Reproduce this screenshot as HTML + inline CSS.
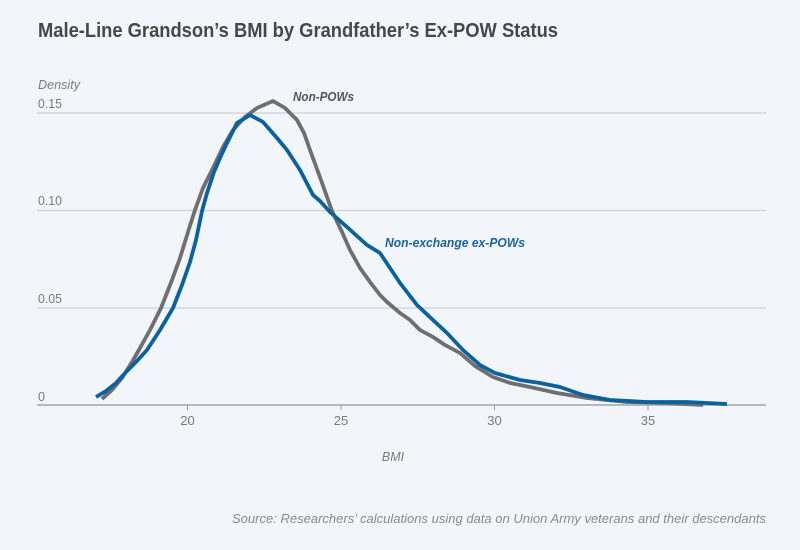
<!DOCTYPE html>
<html><head><meta charset="utf-8"><style>
html,body{margin:0;padding:0;background:#f2f6fa;}
svg{display:block;}
text{font-family:"Liberation Sans",sans-serif;}
</style></head><body>
<svg width="800" height="550" viewBox="0 0 800 550" xmlns="http://www.w3.org/2000/svg">
<rect width="800" height="550" fill="#f2f6fa"/>
<text x="38" y="37" font-size="20" font-weight="bold" fill="#474747" textLength="520" lengthAdjust="spacingAndGlyphs">Male-Line Grandson’s BMI by Grandfather’s Ex-POW Status</text>
<text x="38" y="89" font-size="12.5" font-style="italic" fill="#7a7a7a" textLength="42" lengthAdjust="spacingAndGlyphs">Density</text>
<g font-size="12.5" fill="#7a7a7a">
<text x="38" y="108" textLength="24" lengthAdjust="spacingAndGlyphs">0.15</text>
<text x="38" y="205" textLength="24" lengthAdjust="spacingAndGlyphs">0.10</text>
<text x="38" y="303" textLength="24" lengthAdjust="spacingAndGlyphs">0.05</text>
<text x="38" y="401">0</text>
</g>
<g stroke="#cdd1d5" stroke-width="1.3">
<line x1="37" y1="113" x2="766" y2="113"/>
<line x1="37" y1="210.5" x2="766" y2="210.5"/>
<line x1="37" y1="308" x2="766" y2="308"/>
</g>
<line x1="37" y1="405" x2="766" y2="405" stroke="#b5b9bd" stroke-width="2"/>
<g stroke="#9a9ea2" stroke-width="1">
<line x1="187.5" y1="405" x2="187.5" y2="410"/>
<line x1="341" y1="405" x2="341" y2="410"/>
<line x1="494.5" y1="405" x2="494.5" y2="410"/>
<line x1="648" y1="405" x2="648" y2="410"/>
</g>
<g font-size="13" fill="#7a7a7a" text-anchor="middle">
<text x="187.5" y="425">20</text>
<text x="341" y="425">25</text>
<text x="494.5" y="425">30</text>
<text x="648" y="425">35</text>
</g>
<text x="393" y="461" font-size="12.5" font-style="italic" fill="#7a7a7a" text-anchor="middle">BMI</text>
<polyline fill="none" stroke="#6f6f71" stroke-width="3.8" stroke-linejoin="round" stroke-linecap="butt" points="102,399 112,390 122,378 132,362 140,348 150,330 161,308 172,280 180,258 188,232 195,210 203,188 213,168 223,147 233,130 245,117 257,108 273,101 285,108 297,120 304,133 310,150 321,180 332,211 342,232 350,250 360,268 370,282 380,295 387,302 400,313 410,320 420,330 433,337 445,345 460,353 475,366 493,377 510,383 530,387 557,393 587,398 627,402 665,403 703,405"/>
<polyline fill="none" stroke="#0a61a0" stroke-width="3.8" stroke-linejoin="round" stroke-linecap="butt" points="96,397 106,391 116,383 126,372 136,362 147,350 160,330 173,308 182,285 190,262 196,240 202,211 207,193 214,172 220,158 227,143 237,123 250,115 263,122 277,138 287,150 300,170 313,195 320,201 330,212 347,227 367,245 380,253 390,268 400,283 417,305 433,320 447,333 463,350 480,365 495,373 520,380 540,383 560,387 583,395 610,400 647,402 687,402 727,404"/>
<text x="293" y="101" font-size="12.5" font-style="italic" font-weight="bold" fill="#555" textLength="61" lengthAdjust="spacingAndGlyphs">Non-POWs</text>
<text x="385" y="247" font-size="12.5" font-style="italic" font-weight="bold" fill="#1a63a0" textLength="140" lengthAdjust="spacingAndGlyphs">Non-exchange ex-POWs</text>
<text x="766" y="523" font-size="12.5" font-style="italic" fill="#8a8a8a" text-anchor="end" textLength="534" lengthAdjust="spacingAndGlyphs">Source: Researchers’ calculations using data on Union Army veterans and their descendants</text>
</svg>
</body></html>
